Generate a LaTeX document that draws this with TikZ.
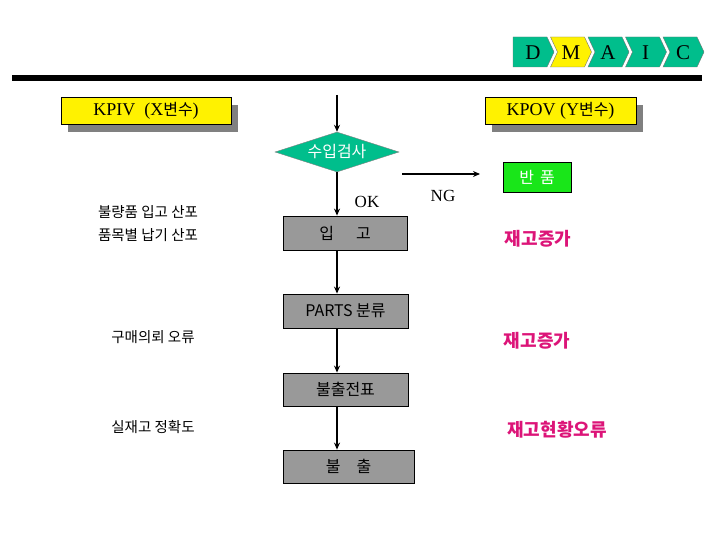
\documentclass[tikz,border=0pt]{standalone}
\usepackage{fontspec}
\setmainfont{Liberation Serif}
\newfontfamily\kr{Noto Sans CJK KR}
\usetikzlibrary{arrows.meta,shapes.geometric,shadows}
\definecolor{chevteal}{RGB}{0,190,140}
\definecolor{boxgray}{RGB}{153,153,153}
\definecolor{boxgreen}{RGB}{25,230,25}
\definecolor{magtext}{RGB}{220,20,120}
\definecolor{shadowgray}{RGB}{128,128,128}
\newcommand\mychev[3]{\fill[#3,draw=black!55,line width=0.4pt] (#1,37) -- ++(34,0) -- ++(7,15) -- ++(-7,15) -- ++(-34,0) -- ++(#2,-15) -- cycle;}
\tikzset{
  kr14/.style={font=\kr\fontsize{14.5}{14.5}\selectfont},
  grayrect/.style={draw=black,line width=0.8pt,fill=boxgray,inner sep=0pt,font=\kr\fontsize{16}{16}\selectfont},
  yelrect/.style={draw=black,line width=0.8pt,fill=yellow,inner sep=0pt,font=\fontsize{18}{18}\selectfont,
     drop shadow={shadow xshift=7pt,shadow yshift=-8pt,fill=shadowgray,opacity=1}},
  magnote/.style={text=magtext,font=\kr\bfseries\fontsize{18}{18}\selectfont},
  flow/.style={line width=1.8pt,-{Stealth[length=7pt,width=6pt]}},
  serif17/.style={font=\fontsize{17}{17}\selectfont},
  letter/.style={font=\fontsize{21}{21}\selectfont}
}
\begin{document}
\begin{tikzpicture}[x=1pt,y=-1pt]
\useasboundingbox (0,0) rectangle (720,540);
% DMAIC chevrons
\mychev{513}{0}{chevteal}
\mychev{550.5}{7}{yellow}
\mychev{588}{7}{chevteal}
\mychev{625.5}{7}{chevteal}
\mychev{663}{7}{chevteal}
\node[letter] (lD) at (533,53) {D};
\node[letter] (lM) at (571,53) {M};
\node[letter] (lA) at (608,53) {A};
\node[letter] (lI) at (645.5,53) {I};
\node[letter] (lC) at (683,53) {C};
\fill[black] (12,75) rectangle (702,81);
% top boxes
\node[yelrect,minimum width=170pt,minimum height=27pt] (kpiv) at (146,111) {KPIV\ \ (X{\kr\fontsize{16}{16}\selectfont 변수})};
\node[yelrect,minimum width=151pt,minimum height=27pt] (kpov) at (560.5,111) {KPOV (Y{\kr\fontsize{16}{16}\selectfont 변수})};
% flow
\coordinate (top) at (337,95);
\node[diamond,fill=chevteal,draw=black!50,line width=0.4pt,inner sep=0pt,minimum width=124pt,minimum height=40pt] (dia) at (337,152) {};
\node[text=white,font=\kr\fontsize{16}{16}\selectfont] (diatext) at (dia) {수입검사};
\node[grayrect,minimum width=124pt,minimum height=34pt] (ipgo) at (345,233) {입\hspace{22pt}고};
\node[grayrect,minimum width=125pt,minimum height=34pt] (parts) at (345.5,311) {PARTS 분류};
\node[grayrect,minimum width=125pt,minimum height=33pt] (jeonpyo) at (345.5,389.5) {불출전표};
\node[grayrect,minimum width=131pt,minimum height=33pt] (bulchul) at (348.5,466.5) {불\hspace{16pt}출};
\node[draw=black,line width=0.6pt,fill=boxgreen,inner sep=0pt,minimum width=68pt,minimum height=30pt,text=white,font=\kr\fontsize{16}{16}\selectfont] (banpum) at (537,177) {반\hspace{6pt}품};
\draw[flow] (top) -- (dia.north -| top);
\draw[flow] (dia.south -| top) -- (ipgo.north -| top);
\draw[flow] (ipgo.south -| top) -- (parts.north -| top);
\draw[flow] (parts.south -| top) -- (jeonpyo.north -| top);
\draw[flow] (jeonpyo.south -| top) -- (bulchul.north -| top);
\coordinate (ngstart) at (402,174);
\coordinate (ngend) at (480,174);
\draw[flow] (ngstart) -- (ngend);
\node[serif17] (ok) at (367,202) {OK};
\node[serif17] (ng) at (443,196) {NG};
% notes
\node[magnote] (m1) at (538,239) {재고증가};
\node[magnote] (m2) at (537,341) {재고증가};
\node[magnote] (m3) at (557,430) {재고현황오류};
\node[kr14] (x1) at (148,212) {불량품 입고 산포};
\node[kr14] (x2) at (148,235) {품목별 납기 산포};
\node[kr14] (x3) at (153,337) {구매의뢰 오류};
\node[kr14] (x4) at (153,427) {실재고 정확도};
\end{tikzpicture}
\end{document}
